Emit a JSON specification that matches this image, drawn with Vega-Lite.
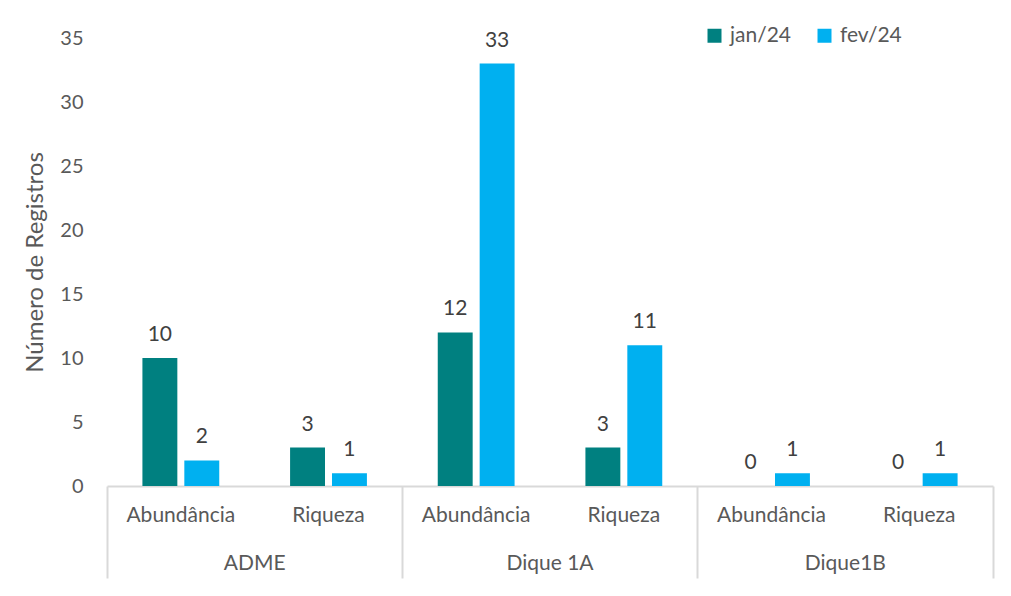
{
  "$schema": "https://vega.github.io/schema/vega-lite/v6.json",
  "autosize": {"type": "none"},
  "padding": {"left": 107, "top": 38, "right": 18, "bottom": 110},
  "width": 886,
  "height": 448,
  "background": "white",
  "config": {
    "font": "Lato",
    "view": {"stroke": null},
    "axis": {"labelFont": "Lato", "titleFont": "Lato", "labelColor": "#595959", "titleColor": "#595959", "grid": false}
  },
  "data": {
    "values": [
      {"group": "ADME", "cat": "ADME|Abundância", "month": "jan/24", "value": 10},
      {"group": "ADME", "cat": "ADME|Abundância", "month": "fev/24", "value": 2},
      {"group": "ADME", "cat": "ADME|Riqueza", "month": "jan/24", "value": 3},
      {"group": "ADME", "cat": "ADME|Riqueza", "month": "fev/24", "value": 1},
      {"group": "Dique 1A", "cat": "Dique 1A|Abundância", "month": "jan/24", "value": 12},
      {"group": "Dique 1A", "cat": "Dique 1A|Abundância", "month": "fev/24", "value": 33},
      {"group": "Dique 1A", "cat": "Dique 1A|Riqueza", "month": "jan/24", "value": 3},
      {"group": "Dique 1A", "cat": "Dique 1A|Riqueza", "month": "fev/24", "value": 11},
      {"group": "Dique1B", "cat": "Dique1B|Abundância", "month": "jan/24", "value": 0},
      {"group": "Dique1B", "cat": "Dique1B|Abundância", "month": "fev/24", "value": 1},
      {"group": "Dique1B", "cat": "Dique1B|Riqueza", "month": "jan/24", "value": 0},
      {"group": "Dique1B", "cat": "Dique1B|Riqueza", "month": "fev/24", "value": 1}
    ]
  },
  "encoding": {
    "y": {
      "field": "value", "type": "quantitative",
      "scale": {"domain": [0, 35], "nice": false},
      "axis": {
        "title": "Número de Registros", "titleFontSize": 24, "titleFontWeight": "normal",
        "titlePadding": 12, "values": [0, 5, 10, 15, 20, 25, 30, 35],
        "labelFontSize": 20, "labelPadding": 24, "domain": false, "ticks": false, "tickSize": 0
      }
    }
  },
  "layer": [
    {
      "encoding": {
        "x": {
          "field": "cat", "type": "nominal", "sort": null,
          "scale": {"paddingInner": 0, "paddingOuter": 0},
          "axis": {
            "orient": "bottom", "title": null, "labelAngle": 0,
            "labelExpr": "split(datum.label, '|')[1]",
            "labelFontSize": 21, "labelPadding": 18, "ticks": false, "tickSize": 0, "domain": false
          }
        },
        "xOffset": {
          "field": "month", "type": "nominal", "sort": ["jan/24", "fev/24"],
          "scale": {"paddingInner": 0.1667, "paddingOuter": 0.845}
        }
      },
      "layer": [
        {
          "mark": {"type": "bar"},
          "encoding": {
            "color": {
              "field": "month", "type": "nominal", "sort": ["jan/24", "fev/24"],
              "scale": {"domain": ["jan/24", "fev/24"], "range": ["#008080", "#00B0F0"]},
              "legend": {
                "title": null, "orient": "none", "direction": "horizontal",
                "legendX": 597, "legendY": -13,
                "symbolType": "square", "symbolSize": 196, "symbolStrokeWidth": 0,
                "labelFontSize": 21, "labelColor": "#595959", "labelFont": "Lato",
                "labelOffset": 5, "columnPadding": 22
              }
            }
          }
        },
        {
          "mark": {"type": "text", "baseline": "bottom", "dy": -13, "fontSize": 21, "color": "#404040"},
          "encoding": {"text": {"field": "value", "type": "quantitative"}}
        }
      ]
    },
    {
      "mark": {"type": "bar", "opacity": 0},
      "encoding": {
        "x": {
          "field": "group", "type": "nominal", "sort": null,
          "scale": {"paddingInner": 0, "paddingOuter": 0},
          "axis": {
            "orient": "bottom", "title": null, "labelAngle": 0,
            "labelFontSize": 21, "bandPosition": 1, "tickExtra": true,
            "tickSize": 92, "tickColor": "#D9D9D9", "tickWidth": 2,
            "domainColor": "#D9D9D9", "domainWidth": 2,
            "labelPadding": -26
          }
        }
      }
    }
  ],
  "resolve": {"scale": {"x": "independent"}, "axis": {"x": "independent"}}
}
